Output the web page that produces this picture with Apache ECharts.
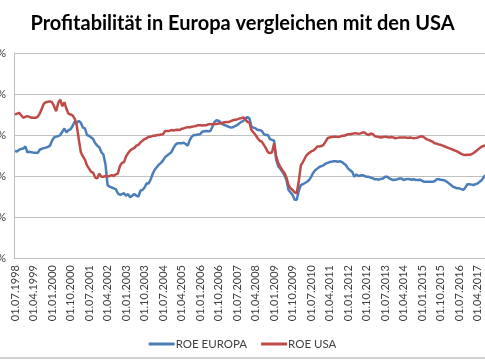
<!DOCTYPE html>
<html><head><meta charset="utf-8">
<script src="https://cdn.jsdelivr.net/npm/echarts@6/dist/echarts.min.js"></script>
<style>html,body{margin:0;padding:0;background:#fff}#c{width:485px;height:360px}</style>
</head><body><div id="c"></div>
<script>
// Monthly categories from 01.07.1998
const startYear = 1998, startMonth = 7, monthCount = 231;
const categories = [];
for (let k = 0; k < monthCount; k++) {
  const m = (startMonth - 1 + k) % 12 + 1;
  const y = startYear + Math.floor((startMonth - 1 + k) / 12);
  categories.push('01.' + (m < 10 ? '0' + m : m) + '.' + y);
}
const roeEuropa = [
13.05,13.0,13.2,13.3,13.35,13.6,12.9,12.95,12.9,12.85,12.85,12.8,
13.2,13.3,13.4,13.45,13.55,13.7,14.3,14.7,14.8,14.85,15.0,15.4,
15.8,15.3,15.6,15.7,16.1,16.6,16.5,16.7,16.5,15.9,15.8,15.0,
14.9,14.7,14.5,14.0,13.7,13.5,12.9,12.6,11.4,8.9,8.7,8.6,
8.5,8.4,7.9,7.7,7.8,7.9,7.6,7.8,7.4,7.6,7.8,7.6,
7.5,8.2,8.3,8.6,9.1,9.1,9.6,10.3,10.8,11.1,11.4,11.6,
11.9,12.3,12.5,12.7,12.9,13.4,13.8,14.0,14.0,14.0,14.05,13.9,
13.7,14.4,14.8,15.0,15.0,15.05,15.1,15.4,15.45,15.5,15.45,15.5,
16.0,16.6,16.8,16.75,16.5,16.3,16.2,16.1,16.0,15.9,15.95,16.1,
16.2,16.4,16.6,16.7,17.0,17.2,17.0,16.0,15.9,15.8,15.6,15.6,
15.5,15.1,15.0,15.0,14.5,14.4,14.3,12.0,11.2,10.9,10.5,10.1,
9.5,8.3,8.0,7.7,7.1,7.1,8.2,8.9,9.0,9.15,9.3,9.5,
9.9,10.4,10.7,10.9,11.1,11.2,11.3,11.5,11.6,11.7,11.75,11.8,
11.8,11.75,11.8,11.7,11.5,11.3,10.9,10.7,10.5,9.9,10.2,10.0,
10.05,10.1,10.0,9.9,9.9,9.8,9.7,9.6,9.6,9.55,9.65,9.7,
9.9,9.9,9.7,9.6,9.5,9.55,9.6,9.7,9.7,9.5,9.6,9.65,
9.6,9.55,9.6,9.5,9.5,9.55,9.4,9.3,9.3,9.3,9.3,9.3,
9.35,9.6,9.6,9.55,9.5,9.45,9.3,9.1,8.9,8.7,8.6,8.5,
8.5,8.4,8.3,8.6,9.0,9.0,8.95,8.9,9.0,9.1,9.3,9.5,
9.9,10.1,10.2
];
const roeUSA = [
17.5,17.6,17.7,17.4,17.1,17.2,17.3,17.2,17.1,17.1,17.1,17.2,
17.6,18.2,18.8,19.0,19.05,19.1,19.0,18.5,17.9,18.9,19.3,18.5,
19.0,18.2,17.6,17.5,17.4,17.0,16.2,14.5,12.9,12.4,12.0,11.3,
10.9,10.5,10.4,9.8,9.7,10.3,9.9,9.9,10.0,9.95,10.0,10.1,
10.0,10.2,10.3,11.2,11.6,11.7,12.4,12.8,13.1,13.3,13.4,13.7,
13.8,14.1,14.3,14.5,14.6,14.8,14.8,14.9,14.9,15.0,15.0,15.05,
15.1,15.5,15.5,15.5,15.6,15.55,15.6,15.65,15.6,15.75,15.8,15.9,
15.95,15.95,16.0,16.05,16.1,16.2,16.2,16.15,16.2,16.2,16.3,16.3,
16.3,16.35,16.35,16.4,16.4,16.5,16.55,16.6,16.6,16.7,16.8,16.85,
16.9,17.0,17.05,17.15,16.9,16.6,16.5,15.6,15.3,15.0,14.6,14.3,
14.2,13.8,13.4,12.9,12.8,12.9,14.0,12.4,11.6,11.1,10.7,10.4,
9.8,8.9,8.5,8.3,8.0,7.9,9.4,11.3,11.7,12.2,12.6,12.8,
13.0,13.1,13.3,13.6,13.6,13.65,13.8,14.2,14.6,14.7,14.75,14.8,
14.8,14.75,14.8,14.9,14.9,15.0,15.1,15.1,15.15,15.2,15.2,15.15,
15.2,15.3,15.3,15.1,15.0,15.2,15.1,14.85,14.8,14.75,14.7,14.75,
14.8,14.75,14.7,14.75,14.7,14.6,14.65,14.7,14.7,14.7,14.7,14.65,
14.7,14.65,14.6,14.65,14.7,14.8,14.85,14.7,14.5,14.4,14.3,14.2,
14.0,13.95,13.85,13.8,13.7,13.6,13.5,13.4,13.3,13.2,13.1,13.0,
12.85,12.7,12.6,12.55,12.6,12.6,12.65,12.8,13.0,13.2,13.4,13.6,
13.65,13.8,13.85,13.9
];
const titleText = 'Profitabilität in Europa vergleichen mit den USA';
const seriesNames = ['ROE EUROPA', 'ROE USA'];

const chart = echarts.init(document.getElementById('c'), null, {renderer: 'canvas'});
chart.setOption({
  animation: false,
  backgroundColor: '#ffffff',
  title: {
    text: titleText, left: 'center', top: 9,
    textStyle: {fontFamily: 'Lato', fontWeight: 'bold', fontSize: 20, color: '#000'}
  },
  legend: {
    bottom: 5, left: 'center', itemWidth: 26, itemHeight: 3, itemGap: 14,
    icon: 'rect',
    textStyle: {fontFamily: 'Lato', fontSize: 11.5, color: '#404040', padding: [0, 0, 0, -4]},
    data: seriesNames
  },
  grid: {left: 14, right: -4, top: 53, bottom: 102, containLabel: false, outerBoundsMode: 'none'},
  xAxis: {
    type: 'category', data: categories, boundaryGap: true,
    axisLine: {lineStyle: {color: '#BFBFBF', width: 1}},
    axisTick: {show: false},
    axisLabel: {interval: 8, rotate: 90, margin: 7, fontFamily: 'Lato', fontSize: 11, color: '#404040'},
    splitLine: {show: false}
  },
  yAxis: {
    type: 'value', min: 0, max: 25, interval: 5,
    axisLine: {show: true, lineStyle: {color: '#BFBFBF'}},
    axisTick: {show: false},
    axisLabel: {formatter: '{value}%', margin: 8, fontFamily: 'Lato', fontSize: 11, color: '#404040'},
    splitLine: {lineStyle: {color: '#C0C0C0', width: 1}}
  },
  series: [
    {name: seriesNames[0], type: 'line', data: roeEuropa, showSymbol: false, symbol: 'none',
     lineStyle: {color: '#4A7EBB', width: 2.5}, itemStyle: {color: '#4A7EBB'}},
    {name: seriesNames[1], type: 'line', data: roeUSA, showSymbol: false, symbol: 'none',
     lineStyle: {color: '#BE4B48', width: 2.5}, itemStyle: {color: '#BE4B48'}}
  ],
  graphic: [
    {type: 'line', shape: {x1: 0, y1: 358, x2: 485, y2: 358}, style: {stroke: '#A6A6A6', lineWidth: 1}}
  ]
});
</script></body></html>
